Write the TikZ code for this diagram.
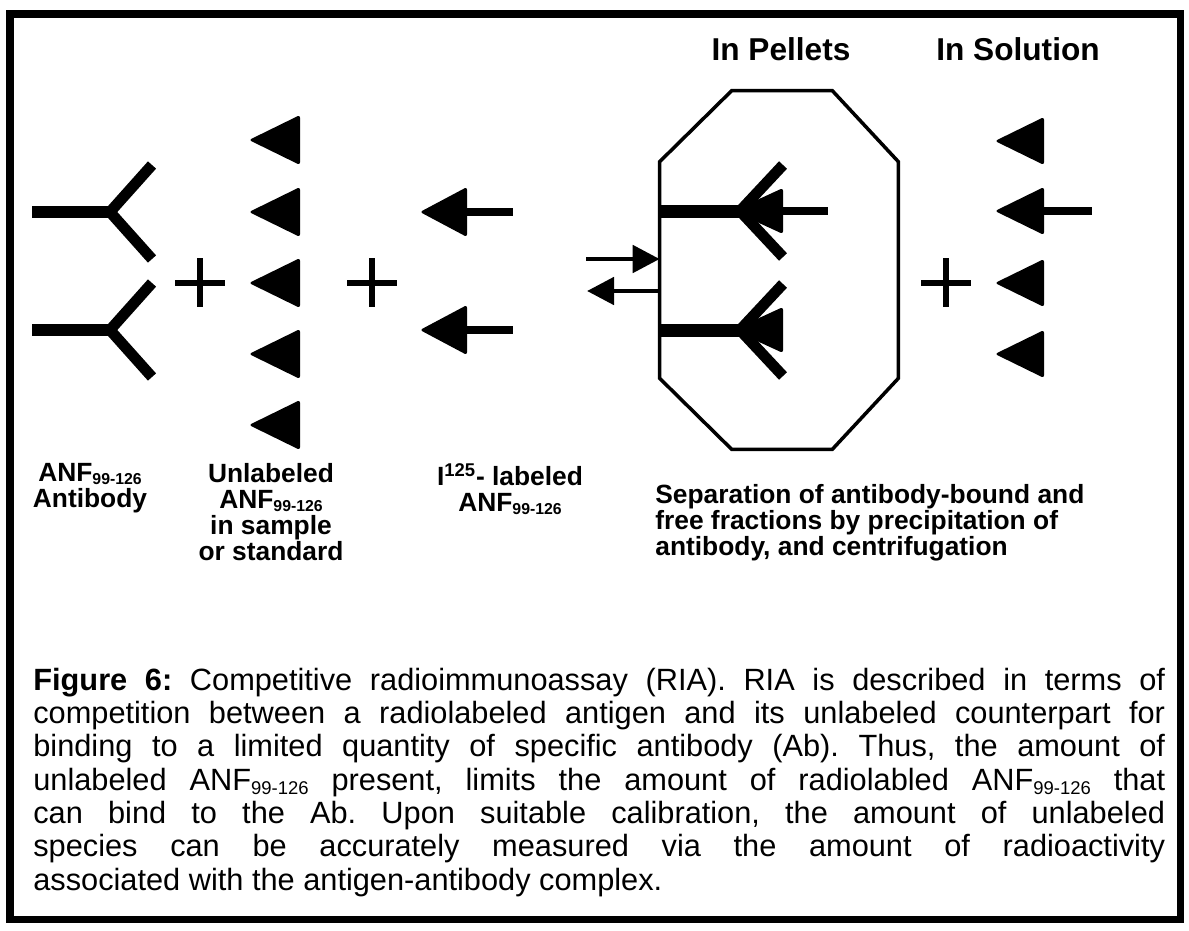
\documentclass[tikz,border=0pt]{standalone}
\usepackage{fontspec}
\setmainfont{Liberation Sans}
\usetikzlibrary{arrows.meta, calc}
\tolerance=10000
\hyphenpenalty=10000
\frenchspacing
\newcommand{\lowidx}[1]{\raisebox{-0.25ex}{\scalebox{0.6}{#1}}}

\tikzset{
  abstem/.style={line width=6.5pt},
  abarm/.style={line width=6.2pt, line join=miter},
  tagstem/.style={line width=4.8pt},
  plussign/.style={line width=3.9pt},
  eqarrow/.style={line width=2.8pt, -{Triangle[length=0.54cm, width=0.54cm]}},
  lbl/.style={font=\fontsize{15}{14.8}\selectfont\bfseries, align=center, anchor=north, inner sep=0pt},
  heading/.style={font=\fontsize{18}{20}\selectfont\bfseries, anchor=base, inner sep=0pt}
}

\begin{document}
\begin{tikzpicture}[x=0.02cm, y=-0.02cm]
  \useasboundingbox (0,0) rectangle (1189,930);
  % Frame
  \draw[line width=4pt] (10,14) rectangle (1180,919);

  % Antibodies
  \foreach \y in {212,330} {
    \draw[abstem] (32,\y) -- (112,\y);
    \draw[abarm] (152,\y-47) -- (110,\y) -- (152,\y+47);
  }
  % Unlabeled antigen
  \foreach \y in {140,212,283,354,425}
    \fill[rounded corners=1.5pt] (249,\y) -- (300,\y-25) -- (300,\y+25) -- cycle;
  % Labeled antigen
  \foreach \y in {212,330} {
    \fill[rounded corners=1.5pt] (420,\y) -- (467,\y-25) -- (467,\y+25) -- cycle;
    \draw[tagstem] (465,\y) -- (513,\y);
  }
  % Plus signs
  \foreach \x in {200,372,946}
    \draw[plussign] (\x-25,283) -- (\x+25,283) (\x,258) -- (\x,307);

  % Pellet
  \node[minimum width=4.76cm, minimum height=7.16cm, inner sep=0pt] (pellet) at (779,270) {};
  \draw[line width=2pt] ($(pellet.north west)+(72,0)$) -- ($(pellet.north east)+(-66,0)$)
    -- ($(pellet.north east)+(0,71)$) -- ($(pellet.south east)+(0,-71)$)
    -- ($(pellet.south east)+(-66,0)$) -- ($(pellet.south west)+(72,0)$)
    -- ($(pellet.south west)+(0,-71)$) -- ($(pellet.north west)+(0,71)$) -- cycle;
  \foreach \y in {211,330} {
    \fill[rounded corners=1.5pt] (733,\y) -- (783,\y-23) -- (783,\y+23) -- cycle;
    \draw[abstem, line width=7.4pt] (660,\y) -- (742,\y);
    \draw[abarm] (783,\y-46) -- (740,\y) -- (783,\y+46);
  }
  \draw[tagstem] (781,211) -- (828,211);

  % Equilibrium
  \coordinate (fwd) at (586,259);
  \coordinate (bwd) at (587,291);
  \draw[eqarrow] (fwd) -- (fwd -| pellet.west);
  \draw[eqarrow] (bwd -| pellet.west) -- (bwd);

  % Solution
  \foreach \y in {141,211,283,354}
    \fill[rounded corners=1.5pt] (995,\y) -- (1044,\y-24) -- (1044,\y+24) -- cycle;
  \draw[tagstem] (1042,211) -- (1092,211);

  % Headings
  \node[heading] (hdpel) at (781,60) {In Pellets};
  \node[heading] (hdsol) at (1018,60) {In Solution};

  % Labels
  \node[lbl] (lbab) at (90,463) {ANF\lowidx{99-126}\\Antibody};
  \node[lbl] (lbunl) at (271,463) {Unlabeled\\ANF\lowidx{99-126}\\in sample\\or standard};
  \node[lbl] (lbtag) at (510,463) {I\textsuperscript{125}- labeled\\ANF\lowidx{99-126}};
  \node[lbl, align=left, anchor=north west] (lbsep) at (655,484)
    {Separation of antibody-bound and\\free fractions by precipitation of\\antibody, and centrifugation};

  % Caption
  \node[anchor=base west, text width=22.64cm, align=justify, inner sep=0pt,
    font=\fontsize{17.5}{19}\selectfont] (caption) at (33,690)
    {\textbf{Figure 6:} Competitive radioimmunoassay (RIA). RIA is described in terms of\linebreak
     competition between a radiolabeled antigen and its unlabeled counterpart for\linebreak
     binding to a limited quantity of specific antibody (Ab). Thus, the amount of\linebreak
     unlabeled ANF\lowidx{99-126} present, limits the amount of radiolabled ANF\lowidx{99-126} that\linebreak
     can bind to the Ab. Upon suitable calibration, the amount of unlabeled\linebreak
     species can be accurately measured via the amount of radioactivity\linebreak
     associated with the antigen-antibody complex.};
\end{tikzpicture}
\end{document}
